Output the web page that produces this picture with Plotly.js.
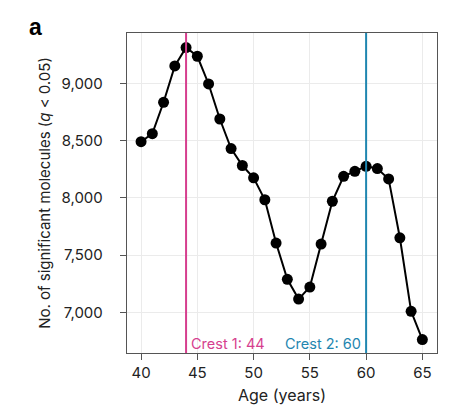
<!DOCTYPE html>
<html>
<head>
<meta charset="utf-8">
<script src="https://cdn.plot.ly/plotly-3.0.1.min.js"></script>
<style>
html,body{margin:0;padding:0;background:#fff;}
#chart{width:469px;height:411px;}
</style>
</head>
<body>
<div id="chart"></div>
<script>
const ages = [40,41,42,43,44,45,46,47,48,49,50,51,52,53,54,55,56,57,58,59,60,61,62,63,64,65];
const counts = [8490,8560,8834,9151,9312,9236,8994,8688,8430,8282,8175,7983,7605,7288,7116,7221,7596,7970,8188,8231,8275,8255,8165,7651,7009,6762];
const crestAges = [44, 60];
const crestLabels = ['Crest 1: 44', 'Crest 2: 60'];
const crestColors = ['#d63e8e', '#1f86b0'];
const xTicks = [40,45,50,55,60,65];
const yTicks = [7000,7500,8000,8500,9000];
const yTickLabels = ['7,000','7,500','8,000','8,500','9,000'];

const FONT = 'Inter, "Open Sans", sans-serif';

const traces = [{
  x: ages, y: counts, type: 'scatter', mode: 'lines+markers',
  line: {color: '#000', width: 2},
  marker: {color: '#000', size: 11},
  hoverinfo: 'skip', showlegend: false, cliponaxis: false
}];

const shapes = crestAges.map((a, i) => ({
  type: 'line', xref: 'x', yref: 'paper', x0: a, x1: a, y0: 0, y1: 1,
  line: {color: crestColors[i], width: 2}, layer: 'above'
}));

const annotations = [
  {xref: 'x', yref: 'paper', x: crestAges[0], y: 0, xanchor: 'left', yanchor: 'bottom',
   xshift: 3, yshift: -1, text: crestLabels[0], showarrow: false,
   font: {family: FONT, size: 14.5, color: crestColors[0]}},
  {xref: 'x', yref: 'paper', x: crestAges[1], y: 0, xanchor: 'right', yanchor: 'bottom',
   xshift: -3, yshift: -1, text: crestLabels[1], showarrow: false,
   font: {family: FONT, size: 14.5, color: crestColors[1]}},
  {xref: 'paper', yref: 'paper', x: -0.322, y: 1.019, xanchor: 'left', yanchor: 'middle',
   text: '<b>a</b>', showarrow: false, font: {family: 'Arial, "Liberation Sans", sans-serif', size: 23, color: '#000'}}
];

const layout = {
  width: 469, height: 411,
  margin: {l: 127, r: 32, t: 33, b: 58},
  paper_bgcolor: '#fff', plot_bgcolor: '#fff',
  font: {family: FONT, size: 15, color: '#222'},
  showlegend: false,
  xaxis: {
    range: [38.75, 66.3], tickvals: xTicks, ticktext: xTicks.map(String),
    ticks: 'outside', ticklen: 6, tickwidth: 1, tickcolor: '#555',
    showgrid: true, gridcolor: '#ebebeb', gridwidth: 1, zeroline: false,
    showline: true, linecolor: '#555', linewidth: 1.2, mirror: true,
    tickfont: {family: FONT, size: 15, color: '#222'},
    title: {text: 'Age (years)', font: {family: FONT, size: 16, color: '#222'}, standoff: 8}
  },
  yaxis: {
    range: [6645, 9439], tickvals: yTicks, ticktext: yTickLabels,
    ticks: 'outside', ticklen: 6, tickwidth: 1, tickcolor: '#555',
    showgrid: true, gridcolor: '#ebebeb', gridwidth: 1, zeroline: false,
    showline: true, linecolor: '#555', linewidth: 1.2, mirror: true,
    tickfont: {family: FONT, size: 15, color: '#222'},
    ticklabelstandoff: 14,
    title: {text: 'No. of significant molecules (<i>q</i> &lt; 0.05)', font: {family: FONT, size: 15, color: '#222'}, standoff: 7}
  },
  shapes: shapes,
  annotations: annotations
};

Plotly.newPlot('chart', traces, layout, {staticPlot: true, displayModeBar: false});
</script>
</body>
</html>
